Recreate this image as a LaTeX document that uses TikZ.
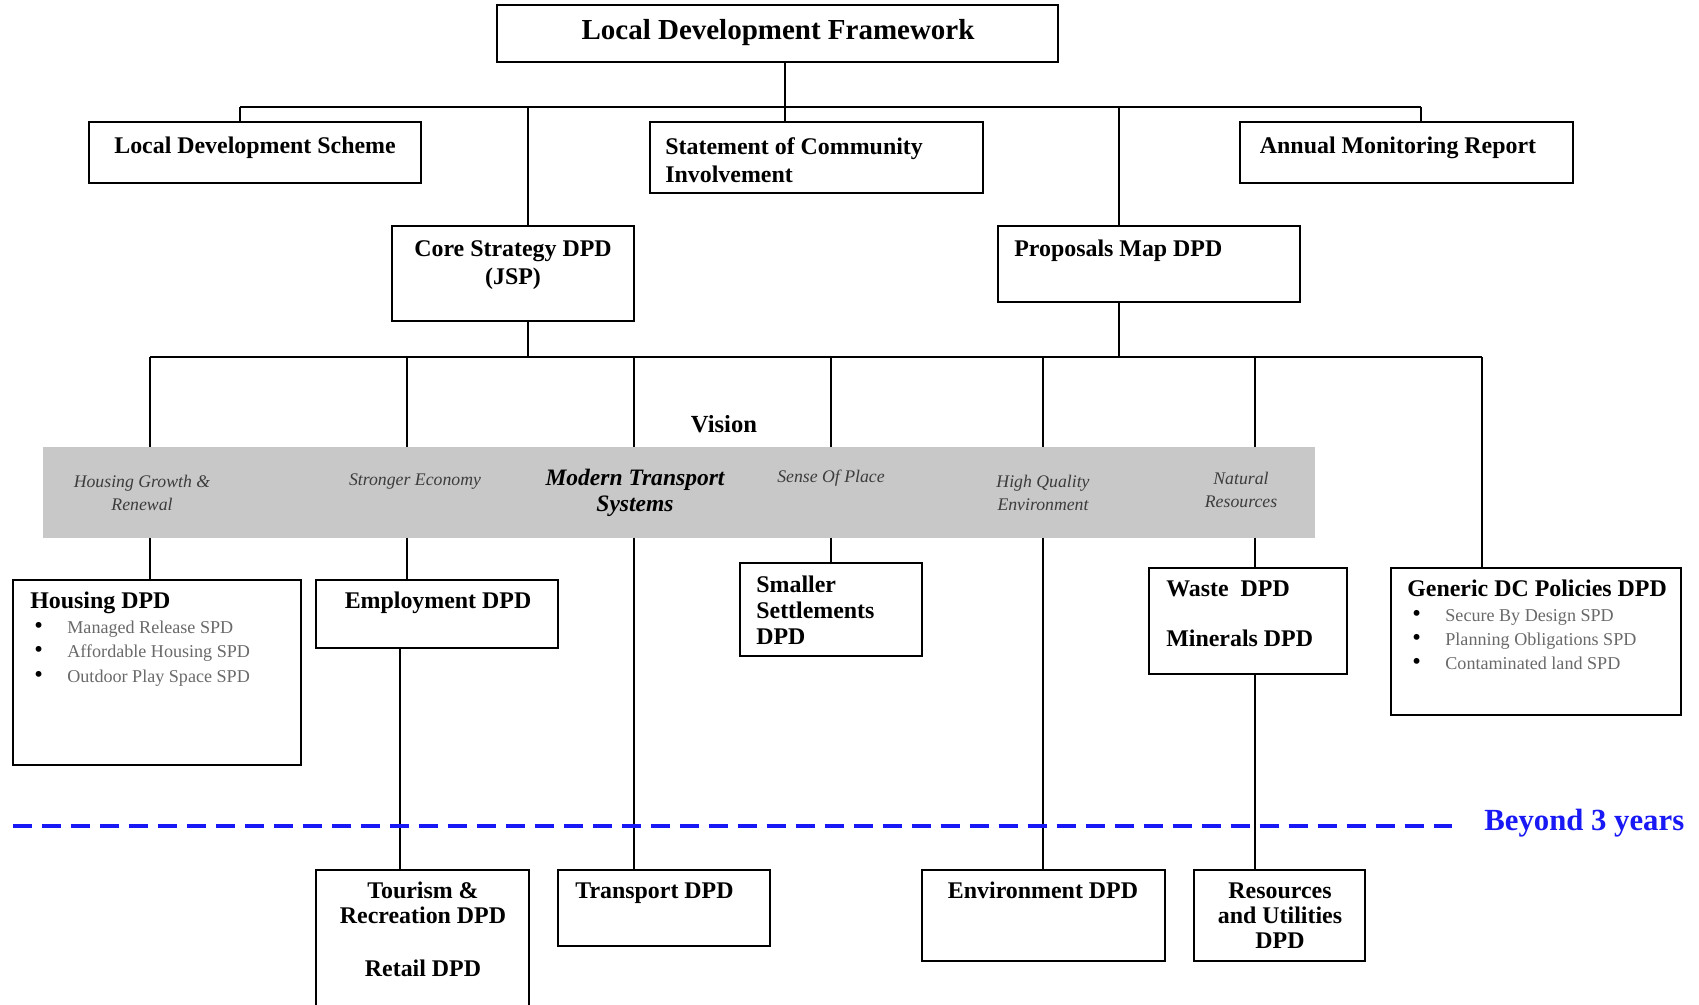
\documentclass[tikz,border=0pt]{standalone}
\usepackage{fontspec}
\setmainfont{Liberation Serif}
\usetikzlibrary{fit, positioning}

\definecolor{bandgray}{RGB}{200,200,200}
\definecolor{themegray}{RGB}{60,60,60}
\definecolor{itemgray}{RGB}{105,105,105}
\definecolor{beyondblue}{RGB}{25,25,245}
\newcommand{\bul}{\makebox[18.8pt][l]{\color{black}\fontsize{14}{14}\selectfont\textbullet}}

\tikzset{
  box/.style={draw, line width=0.85pt, inner sep=0pt},
  link/.style={line width=0.7pt},
  head/.style={inner sep=0pt, font=\bfseries\fontsize{13.6}{16}\selectfont},
  items/.style={inner sep=0pt, align=left, text=itemgray, font=\fontsize{10.3}{13.7}\selectfont},
  theme/.style={inner sep=0pt, align=center, text=themegray, font=\itshape\fontsize{10.1}{13}\selectfont},
}

\begin{document}
\begin{tikzpicture}[x=0.02cm, y=-0.02cm]
\useasboundingbox (0,0) rectangle (1699,1004);
\clip (0,0) rectangle (1699,1004);

% boxes
\node[box, fit={(497,5) (1058,62)}] (ldf) {};
\node[box, fit={(89,122) (421,183)}] (lds) {};
\node[box, fit={(650,122) (983,193)}] (sci) {};
\node[box, fit={(1240,122) (1573,183)}] (amr) {};
\node[box, fit={(392,226) (634,321)}] (core) {};
\node[box, fit={(998,226) (1300,302)}] (prop) {};
\node[box, fit={(13,580) (301,765)}] (hous) {};
\node[box, fit={(316,580) (558,648)}] (emp) {};
\node[box, fit={(740,563) (922,656)}] (small) {};
\node[box, fit={(1149,568) (1347,674)}] (waste) {};
\node[box, fit={(1391,568) (1681,715)}] (gen) {};
\node[box, fit={(316,870) (529,1015)}] (tour) {};
\node[box, fit={(558,870) (770,946)}] (trans) {};
\node[box, fit={(922,870) (1165,961)}] (env) {};
\node[box, fit={(1194,870) (1365,961)}] (res) {};

% first level
\coordinate (t1) at (240,107);
\coordinate (t2) at (528,107);
\coordinate (t3) at (785,107);
\coordinate (t4) at (1119,107);
\coordinate (t5) at (1421,107);
\draw[link] (t1) -- (t5);
\draw[link] (ldf.south -| t3) -- (sci.north -| t3);
\draw[link] (t1) -- (t1 |- lds.north);
\draw[link] (t2) -- (t2 |- core.north);
\draw[link] (t4) -- (t4 |- prop.north);
\draw[link] (t5) -- (t5 |- amr.north);

% second level
\coordinate (c1) at (150,357);
\coordinate (c2) at (407,357);
\coordinate (c3) at (634,357);
\coordinate (c4) at (831,357);
\coordinate (c5) at (1043,357);
\coordinate (c6) at (1255,357);
\coordinate (c7) at (1482,357);
\coordinate (ec) at (400,648);
\draw[link] (c1) -- (c7);
\draw[link] (core.south -| t2) -- (t2 |- c1);
\draw[link] (prop.south -| t4) -- (t4 |- c1);
\draw[link] (c1) -- (c1 |- hous.north);
\draw[link] (c2) -- (c2 |- emp.north);
\draw[link] (c3) -- (c3 |- trans.north);
\draw[link] (c4) -- (c4 |- small.north);
\draw[link] (c5) -- (c5 |- env.north);
\draw[link] (c6) -- (c6 |- waste.north);
\draw[link] (c7) -- (c7 |- gen.north);
\draw[link] (ec) -- (ec |- tour.north);
\draw[link] (waste.south -| c6) -- (c6 |- res.north);

% vision band
\node[fill=bandgray, inner sep=0pt, fit={(43,447) (1315,538)}] (band) {};
\node[head, anchor=base, font=\bfseries\fontsize{14}{16}\selectfont] (vision) at (724,432) {Vision};
\node[theme] (th1) at (142,493) {Housing Growth \&\\Renewal};
\node[theme] (th2) at (415,482) {Stronger Economy};
\node[theme, text=black, font=\bfseries\itshape\fontsize{13.4}{15}\selectfont] (th3) at (635,493) {Modern Transport\\Systems};
\node[theme] (th4) at (831,478) {Sense Of Place};
\node[theme] (th5) at (1043,493) {High Quality\\Environment};
\node[theme] (th6) at (1241,490) {Natural\\Resources};

% box texts
\node[head, anchor=base, font=\bfseries\fontsize{16.5}{19}\selectfont] (ldf-t) at (778,39) {Local Development Framework};
\node[head, anchor=base] (lds-t) at (255,153) {Local Development Scheme};
\node[head, anchor=north west, align=left, font=\bfseries\fontsize{13.6}{15.9}\selectfont] (sci-t) at (665,137) {Statement of Community\\Involvement};
\node[head, anchor=base] (amr-t) at (1398,153) {Annual Monitoring Report};
\node[head, anchor=north, align=center, font=\bfseries\fontsize{13.6}{15.9}\selectfont] (core-t) at (513,240) {Core Strategy DPD\\(JSP)};
\node[head, anchor=base west] (prop-t) at (1014,256) {Proposals Map DPD};
\node[head, anchor=base west] (hous-t) at (30,608) {Housing DPD};
\node[items, anchor=north west] (hous-l) at (34,621) {\bul Managed Release SPD\\\bul Affordable Housing SPD\\\bul Outdoor Play Space SPD};
\node[head, anchor=base] (emp-t) at (438,608) {Employment DPD};
\node[head, anchor=north west, align=left, font=\bfseries\fontsize{13.6}{14.8}\selectfont] (small-t) at (756,576) {Smaller\\Settlements\\DPD};
\node[head, anchor=north west, align=left, font=\bfseries\fontsize{13.6}{14.5}\selectfont] (waste-t) at (1166,580) {Waste\ \ DPD\\[14.5pt]Minerals DPD};
\node[head, anchor=base west] (gen-t) at (1407,596) {Generic DC Policies DPD};
\node[items, anchor=north west] (gen-l) at (1412,609) {\bul Secure By Design SPD\\\bul Planning Obligations SPD\\\bul Contaminated land SPD};
\node[head, anchor=north, align=center, font=\bfseries\fontsize{13.6}{14.2}\selectfont] (tour-t) at (423,882) {Tourism \&\\Recreation DPD\\[15.8pt]Retail DPD};
\node[head, anchor=base west] (trans-t) at (575,898) {Transport DPD};
\node[head, anchor=base] (env-t) at (1043,898) {Environment DPD};
\node[head, anchor=north, align=center, font=\bfseries\fontsize{13.6}{14.5}\selectfont] (res-t) at (1280,882) {Resources\\and Utilities\\DPD};

% time line
\draw[beyondblue, line width=2.8pt, dash pattern=on 10.8pt off 5.7pt] (13,826) -- (1452,826);
\node[head, anchor=base west, text=beyondblue, font=\bfseries\fontsize{17.5}{20}\selectfont] (beyond) at (1484,830) {Beyond 3 years};
\end{tikzpicture}
\end{document}
